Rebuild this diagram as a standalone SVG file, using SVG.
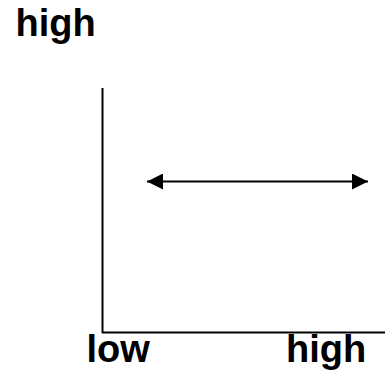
<svg xmlns="http://www.w3.org/2000/svg" width="389" height="371" viewBox="0 0 389 371">
<style>
.lbl{font-family:"Liberation Sans",Arial,sans-serif;font-weight:bold;font-size:38px;fill:#000}
.ax{stroke:#000;stroke-width:2;fill:none}
</style>
<defs>
<marker id="ah" viewBox="0 0 16 16" refX="16" refY="8" markerWidth="16" markerHeight="16" markerUnits="userSpaceOnUse" orient="auto-start-reverse">
<path d="M0,0 L16,8 L0,16 Z" fill="#000"/>
</marker>
</defs>
<g id="labels">
<text class="lbl" x="15.5" y="36">high</text>
<text class="lbl" x="86.5" y="362">low</text>
<text class="lbl" x="286" y="362">high</text>
</g>
<g id="axes">
<line class="ax" x1="102.5" y1="88" x2="102.5" y2="333"/>
<line class="ax" x1="102" y1="332.5" x2="385" y2="332.5"/>
</g>
<g id="connectors">
<line class="ax" x1="147" y1="181.5" x2="368" y2="181.5" marker-start="url(#ah)" marker-end="url(#ah)"/>
</g>
</svg>
